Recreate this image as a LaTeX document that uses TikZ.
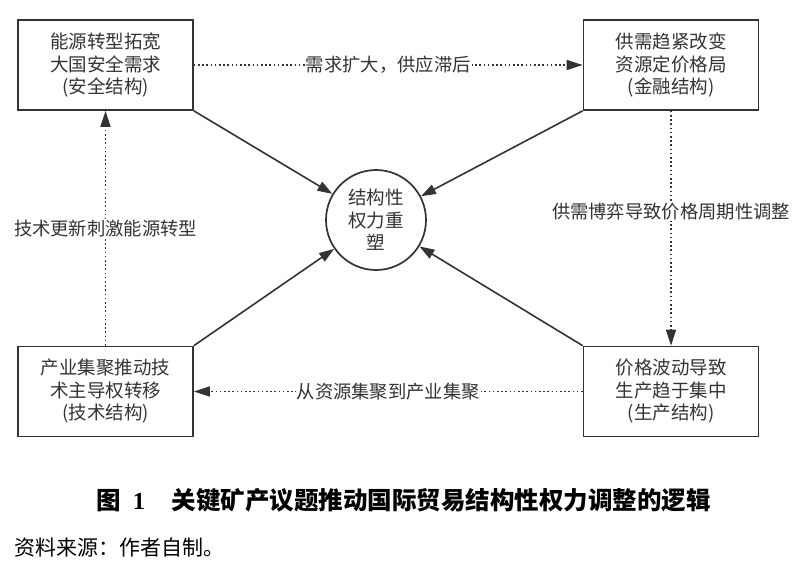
\documentclass[tikz,border=0pt]{standalone}
\usepackage{fontspec}
\setmainfont{Liberation Serif}
\newfontfamily\cjk{Noto Sans CJK SC}
\usetikzlibrary{arrows.meta}
\definecolor{ink}{HTML}{333333}
\begin{document}
\begin{tikzpicture}[x=1pt,y=-1pt,
  box/.style={draw=ink, line width=1.7pt, minimum width=175pt, minimum height=90pt,
    align=center, font=\cjk\fontsize{18.5}{22.5}\selectfont, text=ink, inner sep=0pt},
  hub/.style={circle, draw=ink, line width=1.7pt, minimum size=100pt, inner sep=0pt,
    align=center, font=\cjk\fontsize{18.5}{22.5}\selectfont, text=ink},
  solidarrow/.style={draw=ink, line width=1.6pt, -{Triangle[length=15pt,width=10pt]}},
  dotarrow/.style={draw=ink, line width=1.6pt, dash pattern=on 1.6pt off 2.6pt,
    -{Triangle[length=16pt,width=10pt]}},
  lab/.style={fill=white, font=\cjk\fontsize{18.3}{20}\selectfont, text=ink, inner sep=1pt}]
\useasboundingbox (0,0) rectangle (810,565);

\node[box] (tl) at (105.5,65)  {能源转型拓宽\\大国安全需求\\(安全结构)};
\node[box] (tr) at (671,65)    {供需趋紧改变\\资源定价格局\\(金融结构)};
\node[box] (bl) at (105.5,391.5) {产业集聚推动技\\术主导权转移\\(技术结构)};
\node[box] (br) at (671,391.5)   {价格波动导致\\生产趋于集中\\(生产结构)};
\node[hub] (c) at (376,220) {结构性\\权力重\\塑};

\draw[solidarrow] (tl.south east) -- (c);
\draw[solidarrow] (tr.south west) -- (c);
\draw[solidarrow] (bl.north east) -- (c);
\draw[solidarrow] (br.north west) -- (c);

\draw[dotarrow] (tl.east) -- node[lab] {需求扩大，供应滞后} (tr.west);
\draw[dotarrow] (tr.south) -- node[lab, pos=0.43] {供需博弈导致价格周期性调整} (br.north);
\draw[dotarrow] (br.west) -- node[lab] {从资源集聚到产业集聚} (bl.east);
\draw[dotarrow] (bl.north) -- node[lab, pos=0.5] {技术更新刺激能源转型} (tl.south);

\node (cap) at (403.5,500) {\fontsize{24.5}{28}\selectfont\bfseries\cjk 图\hspace{0.5em}{\rmfamily 1}\hspace{1.1em}关键矿产议题推动国际贸易结构性权力调整的逻辑};
\node[anchor=west, inner sep=0pt] (src) at (14,548) {\fontsize{21}{24}\selectfont\cjk 资料来源：作者自制。};
\end{tikzpicture}
\end{document}
